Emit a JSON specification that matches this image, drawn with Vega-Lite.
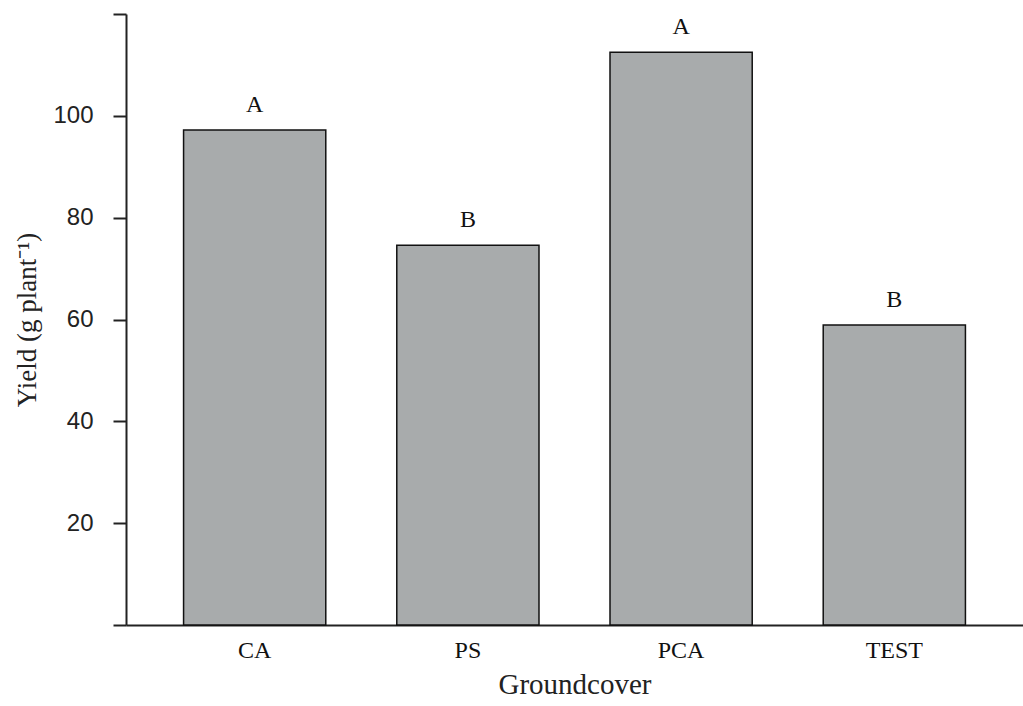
{
  "$schema": "https://vega.github.io/schema/vega-lite/v6.json",
  "width": 897,
  "height": 611,
  "autosize": {"type": "none"},
  "padding": {"left": 126, "top": 14, "right": 0, "bottom": 81},
  "background": "white",
  "config": {"view": {"stroke": null}},
  "data": {"values": [
    {"groundcover": "CA", "yield": 97.2, "group": "A"},
    {"groundcover": "PS", "yield": 74.6, "group": "B"},
    {"groundcover": "PCA", "yield": 112.5, "group": "A"},
    {"groundcover": "TEST", "yield": 58.9, "group": "B"}
  ]},
  "encoding": {
    "x": {
      "field": "groundcover", "type": "nominal", "sort": null,
      "scale": {"paddingInner": 0.333, "paddingOuter": 0.27},
      "axis": {
        "title": "Groundcover", "titleFont": "Liberation Serif", "titleFontSize": 29, "titleFontWeight": "normal",
        "titleColor": "#222", "titlePadding": 8,
        "labelFont": "Liberation Serif", "labelFontSize": 24, "labelColor": "#111", "labelAngle": 0, "labelPadding": 13,
        "ticks": false, "domainColor": "#222", "domainWidth": 2
      }
    },
    "y": {
      "field": "yield", "type": "quantitative",
      "scale": {"domain": [0, 120], "nice": false},
      "axis": {
        "title": "Yield (g plant⁻¹)", "titleFont": "Liberation Serif", "titleFontSize": 27, "titleFontWeight": "normal",
        "titleColor": "#222", "titlePadding": 11,
        "values": [0, 20, 40, 60, 80, 100, 120],
        "labelExpr": "datum.value == 0 || datum.value == 120 ? '' : datum.label",
        "labelFont": "Liberation Sans", "labelFontSize": 24, "labelColor": "#222", "labelPadding": 20,
        "tickSize": 13, "tickColor": "#222", "tickWidth": 2,
        "domainColor": "#222", "domainWidth": 2, "grid": false
      }
    }
  },
  "layer": [
    {"mark": {"type": "bar", "color": "#a8abac", "stroke": "#111", "strokeWidth": 1.5}},
    {"mark": {"type": "text", "font": "Liberation Serif", "fontSize": 24, "color": "#111", "dy": -13, "baseline": "bottom"},
     "encoding": {"text": {"field": "group"}}}
  ]
}
